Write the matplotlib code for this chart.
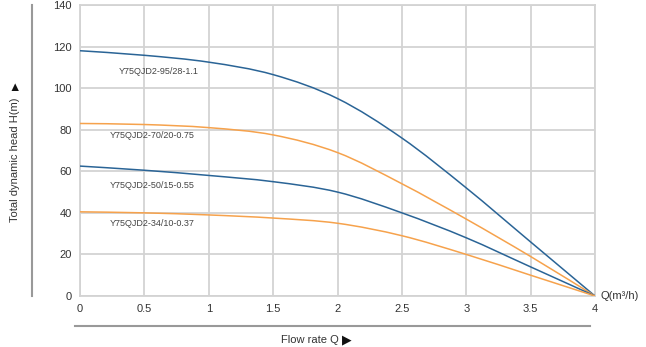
import matplotlib
matplotlib.use("Agg")
import matplotlib.pyplot as plt
from matplotlib.lines import Line2D
from matplotlib.path import Path
from matplotlib.patches import PathPatch

plt.rcParams["font.family"] = ["Liberation Sans", "DejaVu Sans"]

# Pump performance curves (flow rate m3/h vs head m)
flow = [0, 0.5, 1, 1.5, 2, 2.5, 3, 3.5, 4]
head_95_28 = [118, 115.8, 112.5, 106.5, 95, 76, 52, 26, 0]
head_70_20 = [83, 82.5, 81, 77.5, 69, 54, 37, 19, 0]
head_50_15 = [62.5, 60.5, 58, 55, 50, 40, 28, 14, 0]
head_34_10 = [40.5, 40, 39, 37.5, 35, 29, 20, 10, 0]
models = ["Y75QJD2-95/28-1.1", "Y75QJD2-70/20-0.75",
          "Y75QJD2-50/15-0.55", "Y75QJD2-34/10-0.37"]
label_pos = [(0.3, 108), (0.23, 77), (0.23, 53), (0.23, 35)]
x_ticks = [0, 0.5, 1, 1.5, 2, 2.5, 3, 3.5, 4]
x_ticklabels = ["0", "0.5", "1", "1.5", "2", "2.5", "3", "3.5", "4"]
y_ticks = [0, 20, 40, 60, 80, 100, 120, 140]

BLUE = "#2a6496"
ORANGE = "#f6a24c"
GRID = "#d3d3d3"


def smooth_path(xs, ys):
    """Excel-like smoothed line: cubic Bezier segments through the points."""
    pts = list(zip(xs, ys))
    verts = [pts[0]]
    codes = [Path.MOVETO]
    n = len(pts)
    for i in range(n - 1):
        p0 = pts[max(i - 1, 0)]
        p1 = pts[i]
        p2 = pts[i + 1]
        p3 = pts[min(i + 2, n - 1)]
        c1 = (p1[0] + (p2[0] - p0[0]) / 6, p1[1] + (p2[1] - p0[1]) / 6)
        c2 = (p2[0] - (p3[0] - p1[0]) / 6, p2[1] - (p3[1] - p1[1]) / 6)
        verts += [c1, c2, p2]
        codes += [Path.CURVE4] * 3
    return Path(verts, codes)


fig = plt.figure(figsize=(6.46, 3.47), dpi=100)
ax = fig.add_axes([80 / 646, 51 / 347, 515 / 646, 291 / 347])

series = [head_95_28, head_70_20, head_50_15, head_34_10]
colors = [BLUE, ORANGE, BLUE, ORANGE]
for h, c in zip(series, colors):
    ax.add_patch(PathPatch(smooth_path(flow, h), facecolor="none",
                           edgecolor=c, linewidth=1.1, zorder=3))

for name, (lx, ly) in zip(models, label_pos):
    ax.text(lx, ly, name, fontsize=6.5, color="#444444", ha="left", va="center")

ax.set_xlim(0, 4)
ax.set_ylim(0, 140)
ax.set_xticks(x_ticks)
ax.set_xticklabels(x_ticklabels)
ax.set_yticks(y_ticks)
ax.grid(True, color=GRID, linewidth=1.3)
ax.set_axisbelow(True)
ax.tick_params(length=0, labelsize=8, colors="#333333", pad=6)
for s in ax.spines.values():
    s.set_color(GRID)
    s.set_linewidth(1.3)

ax.text(4.04, 0, "Q(m\u00b3/h)", fontsize=8, color="#333333", ha="left", va="center",
        clip_on=False)

# decorative axis bars
fig.add_artist(Line2D([32 / 646, 32 / 646], [1 - 296 / 347, 1 - 5 / 347],
                      color="#999999", linewidth=1.5))
fig.add_artist(Line2D([75 / 646, 590 / 646], [1 - 326 / 347, 1 - 326 / 347],
                      color="#999999", linewidth=1.5))

fig.text(15 / 646, 1 - 160 / 347, "Total dynamic head H(m)", rotation=90,
         fontsize=8, color="#333333", ha="center", va="center")
fig.text(15 / 646, 1 - 88 / 347, "\u25b2", fontsize=9, color="#111111",
         ha="center", va="center")
fig.text(310 / 646, 1 - 340 / 347, "Flow rate Q", fontsize=8,
         color="#333333", ha="center", va="center")
fig.text(347 / 646, 1 - 340 / 347, "\u25b6", fontsize=9,
         color="#111111", ha="center", va="center")

fig.savefig("out.png", dpi=100)
